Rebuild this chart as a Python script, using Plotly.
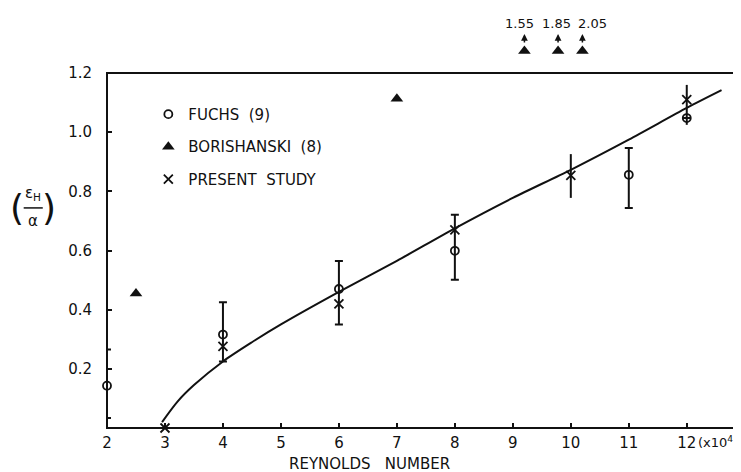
import plotly.graph_objects as go

# ---------------- data ----------------
fuchs_x = [2, 4, 6, 8, 11, 12]
fuchs_y = [0.143, 0.316, 0.47, 0.599, 0.856, 1.048]
fuchs_hi = [0.265, 0.425, 0.565, 0.721, 0.947, 1.048]
fuchs_lo = [0.034, 0.225, 0.35, 0.501, 0.744, 1.048]

bor_x = [2.5, 7]
bor_y = [0.455, 1.113]
bor_off_x = [9.2, 9.78, 10.2]
bor_off_labels = ["1.55", "1.85", "2.05"]
bor_off_label_x = [9.12, 9.76, 10.38]

pres_x = [3, 4, 6, 8, 10, 12]
pres_y = [0.0, 0.276, 0.42, 0.67, 0.854, 1.11]
pres_hi = [0.0, 0.276, 0.42, 0.67, 0.926, 1.16]
pres_lo = [0.0, 0.276, 0.42, 0.67, 0.778, 1.025]

curve_x = [2.95, 3.22, 3.5, 4, 4.5, 5, 6, 7, 8, 9, 10, 11, 12, 12.6]
curve_y = [0.02, 0.09, 0.145, 0.225, 0.29, 0.35, 0.46, 0.565, 0.675, 0.778, 0.873, 0.975, 1.082, 1.142]

x_ticks = [2, 3, 4, 5, 6, 7, 8, 9, 10, 11, 12]
y_ticks = [0.2, 0.4, 0.6, 0.8, 1.0, 1.2]
y_ticktext = ["0.2", "0.4", "0.6", "0.8", "1.0", "1.2"]

X_MIN, X_MAX = 2, 12.97
Y_MIN, Y_MAX = 0, 1.2          # framed region
Y_TOP = 1.42                   # room above the frame for off-scale points
OFFSCALE_Y = 1.275

FONT = "DejaVu Sans"
INK = "#111111"

fig = go.Figure()

fig.add_trace(go.Scatter(
    x=curve_x, y=curve_y, mode="lines", line=dict(color=INK, width=2, shape="spline", smoothing=0.8),
    showlegend=False, hoverinfo="skip"))

fig.add_trace(go.Scatter(
    x=fuchs_x, y=fuchs_y, mode="markers", name="FUCHS  (9)",
    marker=dict(symbol="circle-open", size=8, color=INK, line=dict(width=1.8, color=INK)),
    error_y=dict(type="data", symmetric=False,
                 array=[h - v for h, v in zip(fuchs_hi, fuchs_y)],
                 arrayminus=[v - l for l, v in zip(fuchs_lo, fuchs_y)],
                 color=INK, thickness=2, width=4),
    cliponaxis=False, legendgroup="a"))

fig.add_trace(go.Scatter(
    x=bor_x, y=bor_y, mode="markers", name="BORISHANSKI  (8)",
    marker=dict(symbol="triangle-up", size=11, color=INK),
    cliponaxis=False, legendgroup="b"))

fig.add_trace(go.Scatter(
    x=bor_off_x, y=[OFFSCALE_Y] * len(bor_off_x), mode="markers", showlegend=False,
    marker=dict(symbol="triangle-up", size=11, color=INK),
    cliponaxis=False))

fig.add_trace(go.Scatter(
    x=pres_x, y=pres_y, mode="markers", name="PRESENT  STUDY",
    marker=dict(symbol="x-thin-open", size=9, color=INK, line=dict(width=1.8, color=INK)),
    error_y=dict(type="data", symmetric=False,
                 array=[h - v for h, v in zip(pres_hi, pres_y)],
                 arrayminus=[v - l for l, v in zip(pres_lo, pres_y)],
                 color=INK, thickness=2, width=0),
    cliponaxis=False, legendgroup="c"))

# frame (paper coordinates so it is not clipped at the plot edges)
fig.add_shape(type="rect", xref="paper", yref="paper", x0=0, x1=1, y0=0, y1=Y_MAX / Y_TOP,
              line=dict(color=INK, width=2), layer="above")

# off-scale labels and arrows
for xv, lx, lab in zip(bor_off_x, bor_off_label_x, bor_off_labels):
    fig.add_annotation(x=xv, y=1.332, xref="x", yref="y", text="", showarrow=True,
                       ax=0, ay=10, arrowhead=2, arrowsize=0.9, arrowwidth=1.5, arrowcolor=INK)
    fig.add_annotation(x=lx, y=1.369, xref="x", yref="y", text=lab, showarrow=False,
                       font=dict(family=FONT, size=13, color=INK), yanchor="middle")

# x-axis multiplier and title
fig.add_annotation(x=12.16, y=-0.033, xref="x", yref="paper", text="(x10<sup>4</sup>)", showarrow=False,
                   xanchor="left", yanchor="middle", font=dict(family=FONT, size=13, color=INK))
fig.add_annotation(x=6.53, y=-0.086, xref="x", yref="paper", text="REYNOLDS   NUMBER", showarrow=False,
                   xanchor="center", yanchor="middle", font=dict(family=FONT, size=15, color=INK))

# y-axis label (eps_H / alpha) in parentheses
FR_Y = 0.524
fig.add_annotation(x=-0.116, y=FR_Y + 0.006, xref="paper", yref="paper", text="ε<sub>H</sub>", showarrow=False,
                   xanchor="center", yanchor="bottom", font=dict(family=FONT, size=15, color=INK))
fig.add_annotation(x=-0.116, y=FR_Y - 0.006, xref="paper", yref="paper", text="α", showarrow=False,
                   xanchor="center", yanchor="top", font=dict(family=FONT, size=15, color=INK))
fig.add_annotation(x=-0.141, y=FR_Y, xref="paper", yref="paper", text="(", showarrow=False,
                   xanchor="center", yanchor="middle", font=dict(family=FONT, size=36, color=INK))
fig.add_annotation(x=-0.091, y=FR_Y, xref="paper", yref="paper", text=")", showarrow=False,
                   xanchor="center", yanchor="middle", font=dict(family=FONT, size=36, color=INK))
fig.add_shape(type="line", xref="paper", yref="paper", x0=-0.131, x1=-0.101, y0=FR_Y, y1=FR_Y,
              line=dict(color=INK, width=1.5))

fig.update_layout(
    width=741, height=472,
    margin=dict(l=99, r=6, t=0, b=52, autoexpand=False),
    paper_bgcolor="white", plot_bgcolor="white",
    font=dict(family=FONT, size=15, color=INK),
    showlegend=True,
    legend=dict(x=0.065, y=0.786, xanchor="left", yanchor="top", bgcolor="rgba(0,0,0,0)",
                font=dict(family=FONT, size=15, color=INK), tracegroupgap=10, itemwidth=30),
    xaxis=dict(range=[X_MIN, X_MAX], tickvals=x_ticks, ticktext=[str(v) for v in x_ticks],
               ticks="inside", ticklen=5, tickwidth=1.5, tickcolor=INK,
               showline=False, showgrid=False, zeroline=False, ticklabelstandoff=4),
    yaxis=dict(range=[Y_MIN, Y_TOP], tickvals=y_ticks, ticktext=y_ticktext,
               ticks="inside", ticklen=5, tickwidth=1.5, tickcolor=INK,
               showline=False, showgrid=False, zeroline=False, ticklabelstandoff=14),
)

fig.write_html("out.html")
